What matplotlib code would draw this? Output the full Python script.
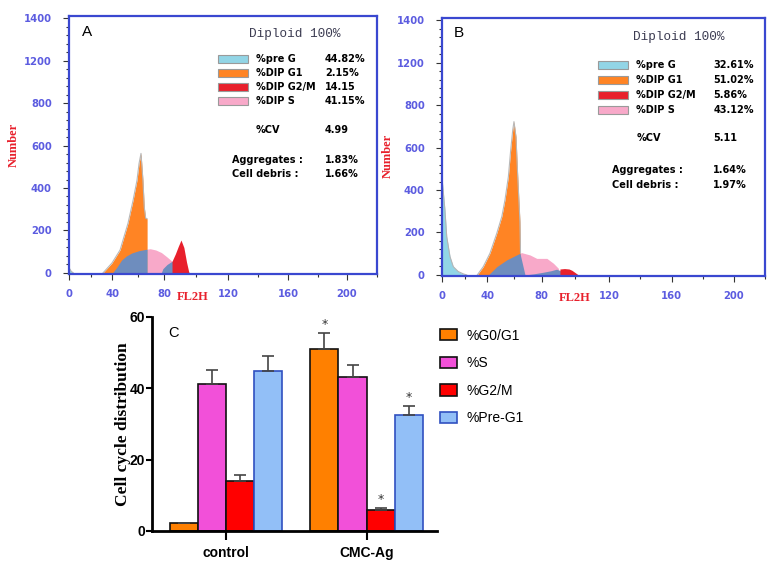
import matplotlib
matplotlib.use('Agg')
import matplotlib.pyplot as plt
import numpy as np
from matplotlib.patches import Rectangle
from matplotlib.ticker import MultipleLocator

# ---------------- histogram data (FL2H channel vs number of cells) ----------------
hist_xticks = [0, 40, 80, 120, 160, 200]
hist_ytick_pos = [0, 200, 400, 600, 800, 1000, 1200]
hist_ytick_labels = ['0', '200', '400', '600', '800', '1200', '1400']

# Panel A (control)
A_preg_x = [0, 2, 4]
A_preg_y = [25, 8, 0]
A_g1_x = [31.6, 40, 46.2, 52.3, 56.2, 59.2, 60.8, 62.3, 63.8, 64.8, 65.9, 67.0]
A_g1_y = [0, 47, 108, 234, 342, 436, 516, 563, 436, 310, 258, 255]
A_s_x = [40.3, 43.5, 47.4, 51.1, 55.2, 60.8, 67.0]
A_s_y = [0, 25, 61, 80, 94, 105, 112]
A_pink_x = [67.0, 69.4, 73.7, 78.0, 81.9, 85.0]
A_pink_y = [112, 114, 108, 96, 75, 55]
A_s2_x = [77.9, 79.1, 81.9, 85.0, 87.1, 90.6, 94.1, 95.9]
A_s2_y = [0, 20, 40, 55, 50, 35, 15, 0]
A_g2_x = [85.0, 87.1, 88.9, 90.6, 92.4, 94.1, 95.6]
A_g2_y = [55, 90, 125, 155, 120, 50, 0]

# Panel B (CMC-Ag)
B_preg_x = [0, 2.6, 4.2, 7.1, 10.0, 14.4, 18.9, 21.9]
B_preg_y = [457, 306, 180, 86, 39, 16, 5, 0]
B_g1_x = [31.3, 36.6, 42.1, 47.1, 50.8, 53.1, 55.6, 57.3, 58.8, 59.7, 61.2, 62.2, 63.1, 64.1, 64.5]
B_g1_y = [0, 39, 102, 196, 275, 353, 463, 589, 683, 722, 650, 500, 380, 250, 102]
B_s_x = [40.9, 47.1, 54.4, 64.1, 67.8]
B_s_y = [0, 39, 71, 102, 0]
B_pink_x = [64.2, 65.3, 71.5, 76.4, 83.1, 87.0, 90.0, 90.6]
B_pink_y = [102, 105, 94, 78, 78, 55, 31, 0]
B_s2_x = [67.8, 74.0, 80.4, 85.7, 88.9, 92.7, 94.9]
B_s2_y = [0, 5, 12, 20, 27, 15, 0]
B_g2_x = [90.9, 93.6, 96.3, 98.0, 99.8, 101.9]
B_g2_y = [28, 30, 28, 22, 12, 0]

legend_names = ['%pre G', '%DIP G1', '%DIP G2/M', '%DIP S']
A_legend_vals = ['44.82%', '2.15%', '14.15', '41.15%']
B_legend_vals = ['32.61%', '51.02%', '5.86%', '43.12%']
A_cv, B_cv = '4.99', '5.11'
A_aggr, B_aggr = '1.83%', '1.64%'
A_debris, B_debris = '1.66%', '1.97%'

# ---------------- bar chart data ----------------
groups = ['control', 'CMC-Ag']
series_names = ['%G0/G1', '%S', '%G2/M', '%Pre-G1']
g0g1 = [2.15, 51.02]
s_phase = [41.15, 43.12]
g2m = [14.15, 5.86]
preg1 = [44.82, 32.61]
g0g1_err = [0.15, 4.5]
s_phase_err = [3.9, 3.4]
g2m_err = [1.6, 0.5]
preg1_err = [4.3, 2.3]
g0g1_sig = [False, True]
s_phase_sig = [False, False]
g2m_sig = [False, True]
preg1_sig = [False, True]

# ---------------- colours ----------------
C_PREG = '#92D5E6'
C_G1 = '#FF8424'
C_S = '#6E8DBE'
C_PINK = '#F8A9C9'
C_G2 = '#E8202C'
BOX_BLUE = '#3A48D0'
TICK_BLUE = '#5C5CE0'
LAB_RED = '#E8202C'

# The instrument's FL2H axis is not evenly spaced in the original print-out;
# a piecewise-linear axis scale reproduces where its labels sit.
SCALE_VALS = [-100, 0, 40, 80, 120, 160, 200, 400]
SCALE_POS = [-38.5, 69, 112, 164, 228, 288, 347, 642]


def fl_fwd(v):
    return np.interp(v, SCALE_VALS, SCALE_POS)


def fl_inv(p):
    return np.interp(p, SCALE_POS, SCALE_VALS)


fig = plt.figure(figsize=(7.74, 5.66), dpi=100)
fig.patch.set_facecolor('white')

axA = fig.add_axes([69/774, 1-274/566, 308/774, 258/566])
axB = fig.add_axes([442/774, 1-276/566, 323/774, 258/566])
axC = fig.add_axes([152/774, 1-531/566, 285/774, 214/566])


def draw_hist(ax, preg, g1, s, pink, s2, g2):
    ax.fill_between(preg[0], 0, preg[1], color=C_PREG, lw=0, zorder=2)
    ax.plot(preg[0], preg[1], color='#b5b5b5', lw=0.8, zorder=2)
    ax.fill_between(g1[0], 0, g1[1], color=C_G1, lw=0, zorder=2)
    ax.plot(g1[0], g1[1], color='#b8b8b8', lw=0.8, zorder=2)
    ax.fill_between(pink[0], 0, pink[1], color=C_PINK, lw=0, zorder=3)
    ax.fill_between(s[0], 0, s[1], color=C_S, lw=0, zorder=4)
    ax.fill_between(s2[0], 0, s2[1], color=C_S, lw=0, zorder=4)
    ax.fill_between(g2[0], 0, g2[1], color=C_G2, lw=0, zorder=5)


def style_hist(ax, ylab_xy, xlab_xy):
    ax.set_xscale('function', functions=(fl_fwd, fl_inv))
    ax.set_xlim(0, 220.3)
    ax.set_ylim(-5, 1210)
    for sp in ax.spines.values():
        sp.set_color(BOX_BLUE)
        sp.set_linewidth(1.6)
        sp.set_zorder(6)
    ax.set_xticks(hist_xticks, [str(v) for v in hist_xticks], fontsize=7.2,
                  fontweight='bold', color=TICK_BLUE)
    ax.set_yticks(hist_ytick_pos, hist_ytick_labels, fontsize=7.2,
                  fontweight='bold', color=TICK_BLUE)
    ax.xaxis.set_minor_locator(MultipleLocator(20))
    ax.yaxis.set_minor_locator(MultipleLocator(40))
    ax.tick_params(which='both', direction='out', color='#333333', width=0.8)
    ax.tick_params(which='major', length=4.5)
    ax.tick_params(which='minor', length=2.5)
    ax.tick_params(axis='y', which='major', pad=8)
    ax.tick_params(axis='x', which='major', pad=6)
    ax.set_ylabel('Number', color=LAB_RED, family='Liberation Serif',
                  fontweight='bold', fontsize=9)
    ax.yaxis.set_label_coords(*ylab_xy)
    ax.set_xlabel('FL2H', color=LAB_RED, family='Liberation Serif',
                  fontweight='bold', fontsize=9)
    ax.xaxis.set_label_coords(*xlab_xy)
    ax.xaxis.label.set_va('center')


def annotate_hist(ax, letter, letter_xy, dip_xy, rect_x, row_ys, lab_x, val_x,
                  vals, cv_y, cv, ag_x, ag_y, db_y, aggr, debris):
    ax.text(*letter_xy, letter, transform=ax.transAxes, fontsize=11,
            family='Liberation Sans', ha='center', va='center')
    ax.text(*dip_xy, 'Diploid 100%', transform=ax.transAxes, fontsize=9.2,
            family='Liberation Mono', color='#3c3c52', ha='center', va='center')
    cols = [C_PREG, C_G1, C_G2, C_PINK]
    for c, y, name, v in zip(cols, row_ys, legend_names, vals):
        ax.add_patch(Rectangle((rect_x[0], y - 0.016), rect_x[1] - rect_x[0], 0.032,
                               transform=ax.transAxes, facecolor=c,
                               edgecolor='#9a9a9a', lw=0.8))
        ax.text(lab_x, y, name, transform=ax.transAxes, fontsize=7,
                fontweight='bold', va='center', ha='left')
        ax.text(val_x, y, v, transform=ax.transAxes, fontsize=7,
                fontweight='bold', va='center', ha='left')
    ax.text(lab_x, cv_y, '%CV', transform=ax.transAxes, fontsize=7,
            fontweight='bold', va='center')
    ax.text(val_x, cv_y, cv, transform=ax.transAxes, fontsize=7,
            fontweight='bold', va='center')
    ax.text(ag_x, ag_y, 'Aggregates :', transform=ax.transAxes, fontsize=7,
            fontweight='bold', va='center')
    ax.text(val_x, ag_y, aggr, transform=ax.transAxes, fontsize=7,
            fontweight='bold', va='center')
    ax.text(ag_x, db_y, 'Cell debris :', transform=ax.transAxes, fontsize=7,
            fontweight='bold', va='center')
    ax.text(val_x, db_y, debris, transform=ax.transAxes, fontsize=7,
            fontweight='bold', va='center')


draw_hist(axA, (A_preg_x, A_preg_y), (A_g1_x, A_g1_y), (A_s_x, A_s_y),
          (A_pink_x, A_pink_y), (A_s2_x, A_s2_y), (A_g2_x, A_g2_y))
style_hist(axA, (-0.159, 0.5), (0.40, -0.089))
annotate_hist(axA, 'A', (0.058, 0.938), (0.734, 0.930), (0.484, 0.581),
              [0.833, 0.779, 0.725, 0.671], 0.607, 0.831, A_legend_vals,
              0.558, A_cv, 0.529, 0.442, 0.388, A_aggr, A_debris)

draw_hist(axB, (B_preg_x, B_preg_y), (B_g1_x, B_g1_y), (B_s_x, B_s_y),
          (B_pink_x, B_pink_y), (B_s2_x, B_s2_y), (B_g2_x, B_g2_y))
style_hist(axB, (-0.149, 0.465), (0.412, -0.085))
annotate_hist(axB, 'B', (0.053, 0.942), (0.732, 0.926), (0.482, 0.577),
              [0.817, 0.759, 0.701, 0.642], 0.602, 0.840, B_legend_vals,
              0.534, B_cv, 0.525, 0.411, 0.353, B_aggr, B_debris)

# ---------------- bar chart ----------------
NARROW = ['Liberation Sans Narrow', 'Liberation Sans']
x = np.arange(len(groups))
w = 0.2
bar_specs = [
    (g0g1, g0g1_err, g0g1_sig, '#FF8000', '#111111'),
    (s_phase, s_phase_err, s_phase_sig, '#F250D9', '#111111'),
    (g2m, g2m_err, g2m_sig, '#FF0000', '#111111'),
    (preg1, preg1_err, preg1_sig, '#92BFF7', '#3050C0'),
]
for i, ((vals, errs, sig, fc, ec), name) in enumerate(zip(bar_specs, series_names)):
    pos = x + (i - 1.5) * w
    axC.bar(pos, vals, w, color=fc, edgecolor=ec, linewidth=1.2, label=name, zorder=2)
    axC.errorbar(pos, vals, yerr=[np.zeros(len(vals)), errs], fmt='none',
                 ecolor='#444444', elinewidth=1.2, capsize=4.3, capthick=1.2, zorder=3)
    for p, v, e, s in zip(pos, vals, errs, sig):
        if s:
            axC.text(p, v + e + 2.4, '*', ha='center', va='center', fontsize=9,
                     color='#333333')

axC.set_xlim(-0.525, 1.5)
axC.set_ylim(0, 60)
for sp in ['top', 'right']:
    axC.spines[sp].set_visible(False)
for sp in ['left', 'bottom']:
    axC.spines[sp].set_linewidth(2)
axC.set_yticks([0, 20, 40, 60], ['0', '20', '40', '60'], fontsize=10,
               fontweight='bold', family='Liberation Sans')
axC.set_xticks(x, groups, fontsize=10, fontweight='bold', family=NARROW)
axC.tick_params(axis='y', length=4, width=1.5, pad=1)
axC.tick_params(axis='x', length=6.5, width=1.5, pad=4)
axC.set_ylabel('Cell cycle distribution', family='Liberation Serif',
               fontweight='bold', fontsize=12.5)
axC.yaxis.set_label_coords(-0.074, 0.5)
axC.text(0.077, 0.925, 'C', transform=axC.transAxes, fontsize=10.5,
         family='Liberation Sans', ha='center', va='center')
axC.legend(loc='upper left', bbox_to_anchor=(1.0105, 0.946), frameon=False,
           prop={'family': NARROW, 'size': 10}, handlelength=1.22,
           handleheight=0.86, labelspacing=0.98, handletextpad=0.72,
           borderaxespad=0, borderpad=0)

fig.savefig('out.png', dpi=100, facecolor='white')
